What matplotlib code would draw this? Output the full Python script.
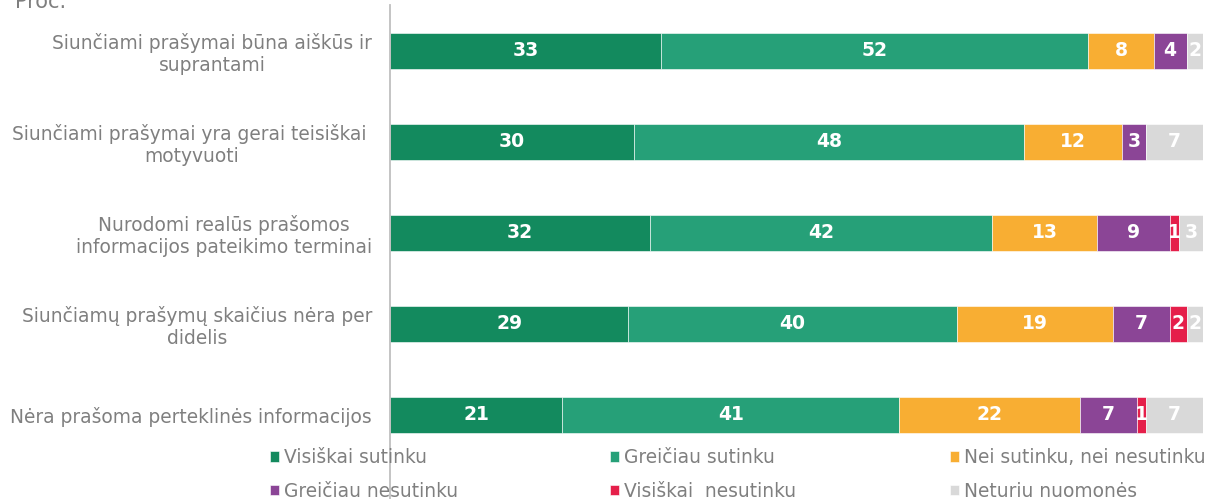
import matplotlib
matplotlib.use("Agg")
import matplotlib.pyplot as plt
import numpy as np

categories = [
    "Siunčiami prašymai būna aiškūs ir\nsuprantami",
    "Siunčiami prašymai yra gerai teisiškai \nmotyvuoti",
    "Nurodomi realūs prašomos\ninformacijos pateikimo terminai",
    "Siunčiamų prašymų skaičius nėra per\ndidelis",
    "Nėra prašoma perteklinės informacijos",
]
series_names = [
    "Visiškai sutinku",
    "Greičiau sutinku",
    "Nei sutinku, nei nesutinku",
    "Greičiau nesutinku",
    "Visiškai  nesutinku",
    "Neturiu nuomonės",
]
visiskai_sutinku = [33, 30, 32, 29, 21]
greiciau_sutinku = [52, 48, 42, 40, 41]
nei_nei = [8, 12, 13, 19, 22]
greiciau_nesutinku = [4, 3, 9, 7, 7]
visiskai_nesutinku = [0, 0, 1, 2, 1]
neturiu_nuomones = [2, 7, 3, 2, 7]

colors = ["#138A5E", "#26A078", "#F8AE33", "#8B4596", "#E51F4A", "#D9D9D9"]

series = [visiskai_sutinku, greiciau_sutinku, nei_nei,
          greiciau_nesutinku, visiskai_nesutinku, neturiu_nuomones]
data = np.array(series, dtype=float)
totals = data.sum(axis=0)
shares = data / totals * 100.0

W, H = 1209, 499
fig = plt.figure(figsize=(W / 100, H / 100), dpi=100)
ax = fig.add_axes([390 / W, 0, (1203 - 390) / W, (H - 5) / H])

y = np.arange(len(categories))
left = np.zeros(len(categories))
handles = []
for i, name in enumerate(series_names):
    bars = ax.barh(y, shares[i], left=left, height=0.4, color=colors[i],
                   edgecolor="white", linewidth=0.4, label=name)
    handles.append(bars)
    labels = [str(int(v)) if v > 0 else "" for v in data[i]]
    ax.bar_label(bars, labels=labels, label_type="center", color="white",
                 fontweight="bold", fontsize=13.5, family="DejaVu Sans")
    left += shares[i]

ax.set_xlim(0, 100)
ax.set_ylim(4.923, -0.505)
ax.set_yticks(y)
ax.set_yticklabels(categories, fontsize=13.4, color="#7F7F7F",
                   multialignment="center", linespacing=1.15)
ax.tick_params(axis="y", length=0, pad=13)
ax.xaxis.set_visible(False)
for s in ["top", "right", "bottom"]:
    ax.spines[s].set_visible(False)
ax.spines["left"].set_color("#BFBFBF")
ax.spines["left"].set_linewidth(1.3)

fig.text(15 / W, (H - 8) / H, "Proc.", fontsize=15, color="#7F7F7F",
         va="baseline", ha="left")

col_x = [270, 610, 950]
for c in range(3):
    idx = [c, c + 3]
    leg = fig.legend([handles[k] for k in idx], [series_names[k] for k in idx],
                     ncol=1, loc="upper left",
                     bbox_to_anchor=(col_x[c] / W, 1 - 448 / H),
                     frameon=False, borderpad=0, borderaxespad=0,
                     handlelength=0.5, handleheight=0.5,
                     handletextpad=0.26, labelspacing=0.78,
                     prop={"family": "DejaVu Sans", "size": 13.4})
    for t in leg.get_texts():
        t.set_color("#7F7F7F")

fig.savefig("out.png", dpi=100)
